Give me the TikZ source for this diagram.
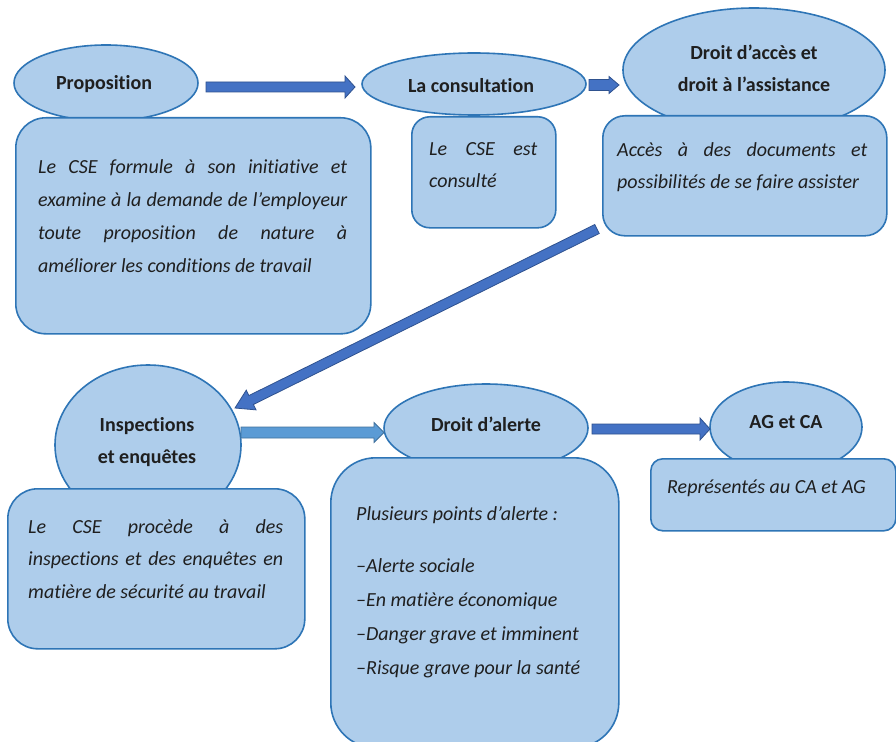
\documentclass[tikz,border=0pt]{standalone}
\usepackage{fontspec}
\setmainfont{Carlito}[Ligatures={TeX,NoCommon}]
\usetikzlibrary{calc,shapes.geometric}
\definecolor{bfill}{RGB}{174,205,235}
\definecolor{bline}{RGB}{46,117,182}
\definecolor{afill}{RGB}{68,114,196}
\definecolor{aline}{RGB}{47,82,143}
\definecolor{lfill}{RGB}{91,155,213}
\definecolor{lline}{RGB}{65,113,156}
\newcommand\blockarr[6]{%
  \coordinate (hb) at ($(#2)!#5!(#1)$);
  \filldraw[#6] ($(#1)!#3!90:(#2)$) -- ($(hb)!#3!90:(#2)$) -- ($(hb)!#4!90:(#2)$) -- (#2)
    -- ($(hb)!#4!-90:(#2)$) -- ($(hb)!#3!-90:(#2)$) -- ($(#1)!#3!-90:(#2)$) -- cycle;}
\begin{document}
\begin{tikzpicture}[x=1pt,y=-1pt,
  oval/.style={ellipse, draw=bline, fill=bfill, line width=1.6pt, inner sep=0pt},
  card/.style={rectangle, draw=bline, fill=bfill, line width=1.6pt, rounded corners=#1, inner sep=0pt, anchor=north west},
  ttl/.style={font=\bfseries\fontsize{20}{24}\selectfont, text=black!88, inner sep=0pt, anchor=base},
  txt/.style={font=\itshape\fontsize{20}{24}\selectfont, text=black!88, inner sep=0pt, anchor=base west},
  darr/.style={fill=afill, draw=aline, line width=0.8pt},
  larr/.style={fill=lfill, draw=lline, line width=0.8pt}]
\useasboundingbox (0,0) rectangle (896,741);
\fill[white] (0,0) rectangle (896,741);
% ellipses
\node[oval, minimum width=184pt, minimum height=76pt] (prop) at (106,83) {};
\node[oval, minimum width=224pt, minimum height=62pt] (cons) at (474,84) {};
\node[oval, minimum width=262pt, minimum height=124pt] (acces) at (754,70) {};
\node[oval, minimum width=186pt, minimum height=160pt] (insp) at (148,445) {};
\node[oval, minimum width=204pt, minimum height=88pt] (alerte) at (486,428) {};
\node[oval, minimum width=152pt, minimum height=90pt] (ag) at (786,427) {};
% boxes
\node[card=30pt, minimum width=355pt, minimum height=216pt] (b1) at (15,117) {};
\node[card=18pt, minimum width=144pt, minimum height=111pt] (b2) at (411,116) {};
\node[card=22pt, minimum width=284pt, minimum height=120pt] (b3) at (602,115) {};
\node[card=30pt, minimum width=297pt, minimum height=160pt] (b4) at (7,488) {};
\node[card=45pt, minimum width=288pt, minimum height=290pt] (b5) at (330,457) {};
\node[card=12pt, minimum width=245pt, minimum height=72pt] (b6) at (650,458) {};
% titles
\node[ttl] (tprop) at (104,90) {Proposition};
\node[ttl] (tcons) at (471,93) {La consultation};
\node[ttl] (tacc1) at (754,60) {Droit d’accès et};
\node[ttl] (tacc2) at (754,92) {droit à l’assistance};
\node[ttl] (tins1) at (147,431) {Inspections};
\node[ttl] (tins2) at (147,463) {et enquêtes};
\node[ttl] (tal) at (486,431) {Droit d’alerte};
\node[ttl] (tag) at (786,428) {AG et CA};
% box texts
\node[txt] (l1a) at (38,173) {\makebox[309pt][s]{Le CSE formule à son initiative et}};
\node[txt] (l1b) at (38,206) {\makebox[309pt][s]{examine à la demande de l’employeur}};
\node[txt] (l1c) at (38,239) {\makebox[309pt][s]{toute proposition de nature à}};
\node[txt] (l1d) at (38,272) {améliorer les conditions de travail};
\node[txt] (l2a) at (429,155) {\makebox[108pt][s]{Le CSE est}};
\node[txt] (l2b) at (429,187) {consulté};
\node[txt] (l3a) at (617,156) {\makebox[250pt][s]{Accès à des documents et}};
\node[txt] (l3b) at (617,188) {possibilités de se faire assister};
\node[txt] (l4a) at (28,533) {\makebox[255pt][s]{Le CSE procède à des}};
\node[txt] (l4b) at (28,565) {\makebox[255pt][s]{inspections et des enquêtes en}};
\node[txt] (l4c) at (28,598) {matière de sécurité au travail};
\node[txt] (l5a) at (356,520) {Plusieurs points d’alerte :};
\node[txt] (l5b) at (356,572) {–Alerte sociale};
\node[txt] (l5c) at (356,606) {–En matière économique};
\node[txt] (l5d) at (356,640) {–Danger grave et imminent};
\node[txt] (l5e) at (356,674) {–Risque grave pour la santé};
\node[txt] (l6a) at (667,493) {Représentés au CA et AG};
% arrows
\coordinate (a1s) at (206,87);  \coordinate (a1e) at (355,87);
\coordinate (a2s) at (589,85);  \coordinate (a2e) at (619,85);
\coordinate (a3s) at (597,229); \coordinate (a3e) at (235,408);
\coordinate (a4s) at (241,432.5); \coordinate (a4e) at (384,432.5);
\coordinate (a5s) at (592,429); \coordinate (a5e) at (710,429);
\blockarr{a1s}{a1e}{5pt}{11pt}{10pt}{darr}
\blockarr{a2s}{a2e}{5.5pt}{8.5pt}{10pt}{darr}
\blockarr{a3s}{a3e}{5pt}{11pt}{18pt}{darr}
\blockarr{a4s}{a4e}{5.5pt}{10pt}{10pt}{larr}
\blockarr{a5s}{a5e}{5pt}{11pt}{10pt}{darr}
\end{tikzpicture}
\end{document}
